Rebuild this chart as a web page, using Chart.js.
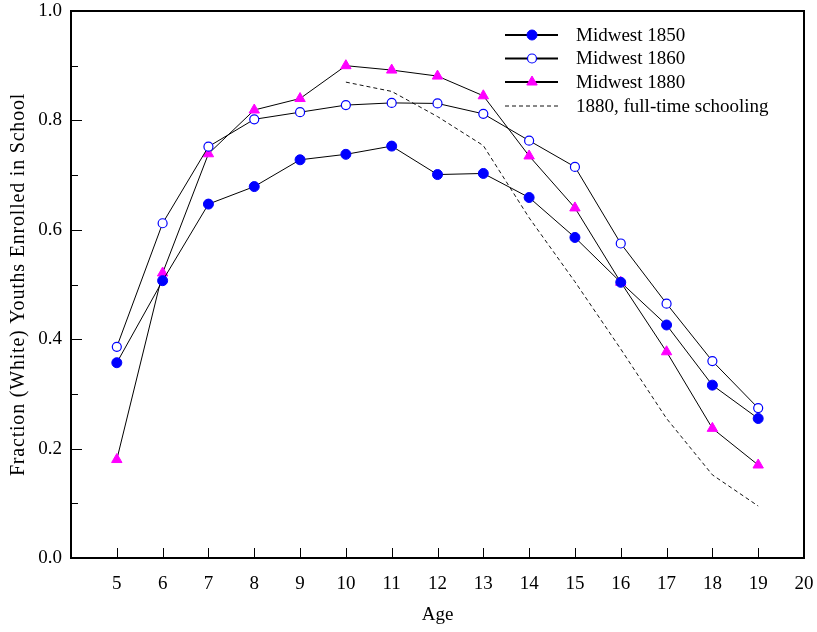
<!DOCTYPE html>
<html>
<head>
<meta charset="utf-8">
<script src="https://cdn.jsdelivr.net/npm/chart.js@4/dist/chart.umd.min.js"></script>
<style>
  html, body { margin: 0; padding: 0; background: #fff; }
</style>
</head>
<body>
<canvas id="enrollChart" width="817" height="632"></canvas>
<script>
// ages 5..19
const ages = [5, 6, 7, 8, 9, 10, 11, 12, 13, 14, 15, 16, 17, 18, 19];
const midwest1850 = [0.357, 0.507, 0.647, 0.679, 0.728, 0.738, 0.753, 0.701, 0.703, 0.659, 0.586, 0.504, 0.426, 0.316, 0.255];
const midwest1860 = [0.386, 0.612, 0.752, 0.802, 0.815, 0.828, 0.832, 0.831, 0.812, 0.763, 0.715, 0.575, 0.465, 0.360, 0.274];
const midwest1880 = [0.180, 0.521, 0.739, 0.819, 0.840, 0.900, 0.892, 0.881, 0.845, 0.735, 0.640, 0.504, 0.377, 0.237, 0.170];
// full-time schooling only from age 10
const fullTime1880 = [null, null, null, null, null, 0.870, 0.853, 0.807, 0.754, 0.622, 0.505, 0.382, 0.255, 0.152, 0.095];
const seriesNames = ['Midwest 1850', 'Midwest 1860', 'Midwest 1880', '1880, full-time schooling'];
const yTicks = [0, 0.2, 0.4, 0.6, 0.8, 1.0];
const yTitle = 'Fraction (White) Youths Enrolled in School';

const serif = 'Liberation Serif, Times New Roman, serif';

function pts(arr) {
  return ages.map((a, i) => ({ x: a, y: arr[i] }));
}

// inward ticks, frame, legend, y title (spaced out)
const framePlugin = {
  id: 'frame',
  afterDraw(chart) {
    const { ctx, chartArea: a, scales: { x, y } } = chart;
    ctx.save();
    ctx.strokeStyle = '#000';
    ctx.lineWidth = 1;
    ctx.beginPath();
    for (let v = 5; v <= 19; v++) {
      const px = Math.round(x.getPixelForValue(v)) + 0.5;
      ctx.moveTo(px, a.bottom);
      ctx.lineTo(px, a.bottom - 10);
    }
    for (let k = 1; k <= 9; k++) {
      const py = Math.round(y.getPixelForValue(k / 10)) + 0.5;
      const len = k % 2 === 0 ? 11 : 7;
      ctx.moveTo(a.left, py);
      ctx.lineTo(a.left + len, py);
    }
    ctx.stroke();
    ctx.lineWidth = 2;
    ctx.strokeRect(a.left, a.top, a.right - a.left, a.bottom - a.top);

    // y title
    ctx.save();
    ctx.translate(19, (a.top + a.bottom) / 2);
    ctx.rotate(-Math.PI / 2);
    ctx.font = '20px ' + serif;
    ctx.letterSpacing = '0.8px';
    ctx.textAlign = 'center';
    ctx.textBaseline = 'middle';
    ctx.fillStyle = '#000';
    ctx.fillText(yTitle, 0, 0);
    ctx.restore();

    // legend
    const rows = [35, 58.5, 82, 106];
    ctx.font = '19px ' + serif;
    ctx.textBaseline = 'middle';
    ctx.fillStyle = '#000';
    chart.data.datasets.forEach((ds, i) => {
      const yy = rows[i];
      ctx.save();
      ctx.beginPath();
      ctx.strokeStyle = ds.borderColor;
      ctx.lineWidth = ds.borderDash ? 1 : 2;
      ctx.setLineDash(ds.borderDash || []);
      ctx.moveTo(505, yy);
      ctx.lineTo(558, yy);
      ctx.stroke();
      ctx.setLineDash([]);
      if (ds.pointRadius > 0) {
        ctx.fillStyle = ds.pointBackgroundColor;
        ctx.strokeStyle = ds.pointBorderColor;
        ctx.lineWidth = ds.pointBorderWidth;
        Chart.helpers.drawPoint(ctx, {
          pointStyle: ds.pointStyle, radius: ds.pointRadius,
          borderWidth: ds.pointBorderWidth, rotation: 0
        }, 532, yy);
      }
      ctx.restore();
      ctx.fillText(ds.label, 576, yy + 1);
    });
    ctx.restore();
  }
};

new Chart(document.getElementById('enrollChart'), {
  type: 'line',
  data: {
    datasets: [{
      label: seriesNames[0],
      data: pts(midwest1850),
      borderColor: '#000', borderWidth: 1,
      pointStyle: 'circle', pointRadius: 5,
      pointBackgroundColor: '#0000ff', pointBorderColor: '#0000ff', pointBorderWidth: 1
    }, {
      label: seriesNames[1],
      data: pts(midwest1860),
      borderColor: '#000', borderWidth: 1,
      pointStyle: 'circle', pointRadius: 4.5,
      pointBackgroundColor: '#fff', pointBorderColor: '#0000ff', pointBorderWidth: 1.2
    }, {
      label: seriesNames[2],
      data: pts(midwest1880),
      borderColor: '#000', borderWidth: 1,
      pointStyle: 'triangle', pointRadius: 6,
      pointBackgroundColor: '#ff00ff', pointBorderColor: '#ff00ff', pointBorderWidth: 1
    }, {
      label: seriesNames[3],
      data: pts(fullTime1880),
      borderColor: '#111', borderWidth: 1, borderDash: [4, 3],
      pointRadius: 0, spanGaps: false
    }]
  },
  options: {
    responsive: false,
    animation: false,
    devicePixelRatio: 1,
    layout: { autoPadding: false, padding: { left: 0, top: 11, right: 13, bottom: 0 } },
    plugins: { legend: { display: false }, tooltip: { enabled: false } },
    scales: {
      x: {
        type: 'linear', min: 4, max: 20,
        afterFit: s => { s.height = 74; s.paddingLeft = 0; s.paddingRight = 0; },
        ticks: {
          stepSize: 1, color: '#000', padding: 15,
          font: { family: serif, size: 19 },
          callback: v => (v === 4 ? '' : v)
        },
        grid: { display: false, drawTicks: false },
        border: { display: false },
        title: { display: true, text: 'Age', color: '#000', font: { family: serif, size: 19 }, padding: { top: 0, bottom: 6 } }
      },
      y: {
        min: 0, max: 1,
        afterFit: s => { s.width = 71; s.paddingTop = 0; s.paddingBottom = 0; },
        afterBuildTicks: s => { s.ticks = yTicks.map(v => ({ value: v })); },
        ticks: {
          color: '#000', padding: 9,
          font: { family: serif, size: 19 },
          callback: v => v.toFixed(1)
        },
        grid: { display: false, drawTicks: false },
        border: { display: false },
        title: { display: false }
      }
    }
  },
  plugins: [framePlugin]
});
</script>
</body>
</html>
